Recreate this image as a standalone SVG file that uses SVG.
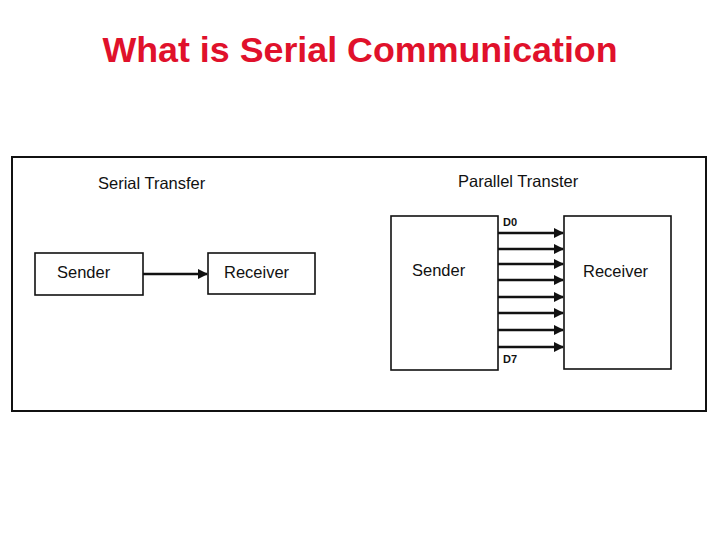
<svg xmlns="http://www.w3.org/2000/svg" width="720" height="540" viewBox="0 0 720 540">
<style>
.t{font-family:"Liberation Sans",Arial,sans-serif;fill:#111}
.lbl{font-size:16.5px}
.sm{font-size:11px;font-weight:bold}
.box{fill:#fff;stroke:#111;stroke-width:1.6}
.ar{stroke:#111;stroke-width:2.6;fill:none;marker-end:url(#ah)}
</style>
<defs>
<marker id="ah" markerWidth="4" markerHeight="4" refX="3.6" refY="2" orient="auto" markerUnits="strokeWidth">
<path d="M0,0 L4,2 L0,4 Z" fill="#111"/>
</marker>
</defs>
<rect width="720" height="540" fill="#fff"/>
<text x="360" y="62" text-anchor="middle" style="font-family:'Liberation Sans',Arial,sans-serif;font-weight:bold;font-size:35.8px;fill:#e0112b">What is Serial Communication</text>
<rect id="frame" x="12" y="157" width="694" height="254" fill="none" stroke="#111" stroke-width="2"/>
<text class="t lbl" x="98" y="189">Serial Transfer</text>
<text class="t lbl" x="458" y="187">Parallel Transter</text>
<g id="serial-sender"><rect class="box" x="35" y="253" width="108" height="42"/><text class="t lbl" x="57" y="278">Sender</text></g>
<g id="serial-receiver"><rect class="box" x="208" y="253" width="107" height="41"/><text class="t lbl" x="224" y="278">Receiver</text></g>
<g id="parallel-sender"><rect class="box" x="391" y="216" width="107" height="154"/><text class="t lbl" x="412" y="276">Sender</text></g>
<g id="parallel-receiver"><rect class="box" x="564" y="216" width="107" height="153"/><text class="t lbl" x="583" y="277">Receiver</text></g>
<g id="connectors">
<line class="ar" x1="143" y1="274" x2="207" y2="274"/>
<line class="ar" x1="498" y1="233" x2="563" y2="233"/>
<line class="ar" x1="498" y1="249" x2="563" y2="249"/>
<line class="ar" x1="498" y1="264" x2="563" y2="264"/>
<line class="ar" x1="498" y1="280" x2="563" y2="280"/>
<line class="ar" x1="498" y1="297" x2="563" y2="297"/>
<line class="ar" x1="498" y1="313" x2="563" y2="313"/>
<line class="ar" x1="498" y1="330" x2="563" y2="330"/>
<line class="ar" x1="498" y1="347" x2="563" y2="347"/>
</g>
<text class="t sm" x="503" y="226">D0</text>
<text class="t sm" x="503" y="363">D7</text>
</svg>
